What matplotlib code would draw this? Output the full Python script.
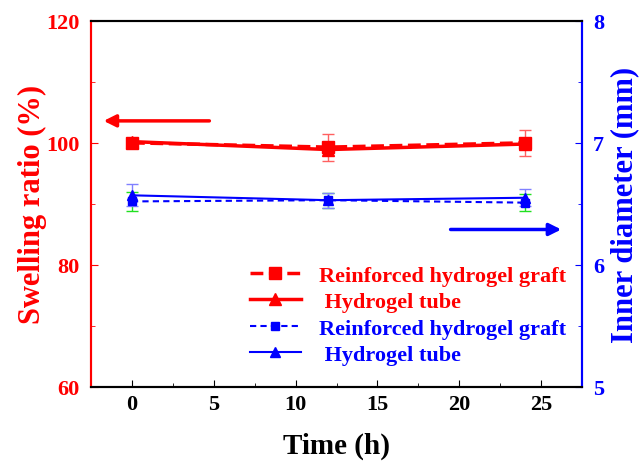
import matplotlib
matplotlib.use('Agg')
import matplotlib.pyplot as plt
from matplotlib.ticker import MultipleLocator

plt.rcParams['font.family'] = ['Liberation Serif', 'DejaVu Serif']
plt.rcParams['font.weight'] = 'bold'

# data
time_h = [0, 12, 24]
swell_graft = [100.0, 99.3, 100.0]
swell_graft_err = [0.4, 2.2, 2.1]
swell_tube = [100.2, 98.9, 99.8]
swell_tube_err = [0.3, 0.4, 0.4]
diam_graft = [6.52, 6.53, 6.51]
diam_graft_err = [0.08, 0.06, 0.07]
diam_tube = [6.57, 6.53, 6.55]
diam_tube_err = [0.09, 0.06, 0.07]

labels = ['Reinforced hydrogel graft', ' Hydrogel tube',
          'Reinforced hydrogel graft', ' Hydrogel tube']

RED = '#ff0000'
BLUE = '#0000ff'

fig = plt.figure(figsize=(6.41, 4.64), dpi=100)
ax = fig.add_subplot(111)
fig.subplots_adjust(left=0.142, right=0.908, bottom=0.164, top=0.953)
ax2 = ax.twinx()

# swelling ratio (left axis)
e1 = ax.errorbar(time_h, swell_graft, yerr=swell_graft_err, color=RED, ls='--', lw=2.5,
                 marker='s', ms=9, ecolor='#ff6060', elinewidth=1, capsize=4)
e2 = ax.errorbar(time_h, swell_tube, yerr=swell_tube_err, color=RED, ls='-', lw=2.5,
                 marker='^', ms=9, ecolor='#ff6060', elinewidth=1, capsize=4)

# inner diameter (right axis)
e3 = ax2.errorbar(time_h, diam_graft, yerr=diam_graft_err, color=BLUE, ls=(0, (3, 2)), lw=1.5,
                  marker='s', ms=6, ecolor='#20e020', elinewidth=1, capsize=4)
e4 = ax2.errorbar(time_h, diam_tube, yerr=diam_tube_err, color=BLUE, ls='-', lw=1.5,
                  marker='^', ms=7, ecolor='#8080ff', elinewidth=1, capsize=4)

ax.set_xlim(-2.5, 27.5)
ax.set_ylim(60, 120)
ax2.set_ylim(5, 8)

ax.xaxis.set_major_locator(MultipleLocator(5))
ax.xaxis.set_minor_locator(MultipleLocator(2.5))
ax.yaxis.set_major_locator(MultipleLocator(20))
ax.yaxis.set_minor_locator(MultipleLocator(10))
ax2.yaxis.set_major_locator(MultipleLocator(1))
ax2.yaxis.set_minor_locator(MultipleLocator(0.5))

ax.tick_params(axis='x', which='both', direction='in', top=False, labelsize=16, pad=5)
ax.tick_params(axis='x', which='major', length=5)
ax.tick_params(axis='x', which='minor', length=3)
ax.tick_params(axis='y', which='both', direction='in', colors=RED, labelsize=16, pad=8)
ax.tick_params(axis='y', which='major', length=5)
ax.tick_params(axis='y', which='minor', length=3)
ax2.tick_params(axis='y', which='both', direction='in', colors=BLUE, labelsize=16, pad=8)
ax2.tick_params(axis='y', which='major', length=5)
ax2.tick_params(axis='y', which='minor', length=3)

for a in (ax, ax2):
    a.spines['left'].set_color(RED)
    a.spines['right'].set_color(BLUE)
    a.spines['top'].set_color('black')
    a.spines['bottom'].set_color('black')
    for s in a.spines.values():
        s.set_linewidth(1.5)

ax.set_xlabel('Time (h)', fontsize=21, fontweight='bold', labelpad=13)
ax.set_ylabel('Swelling ratio (%)', fontsize=22, fontweight='bold', color=RED, labelpad=0)
ax2.set_ylabel('Inner diameter (mm)', fontsize=22, fontweight='bold', color=BLUE, labelpad=4)

# arrows pointing to each axis
ax.annotate('', xy=(-1.9, 103.6), xytext=(4.9, 103.6),
            arrowprops=dict(arrowstyle='-|>', color=RED, lw=2.5, mutation_scale=18))
ax2.annotate('', xy=(26.4, 6.29), xytext=(19.3, 6.29),
             arrowprops=dict(arrowstyle='-|>', color=BLUE, lw=2.5, mutation_scale=18))

handles = [e1[0], e2[0], e3[0], e4[0]]
leg = ax2.legend(handles, labels, loc='lower right', bbox_to_anchor=(0.985, 0.035),
                 frameon=False, fontsize=16, handlelength=2.3, handletextpad=0.8,
                 labelspacing=0.27, borderaxespad=0)
for txt, c in zip(leg.get_texts(), [RED, RED, BLUE, BLUE]):
    txt.set_color(c)

fig.savefig('out.png', dpi=100)
